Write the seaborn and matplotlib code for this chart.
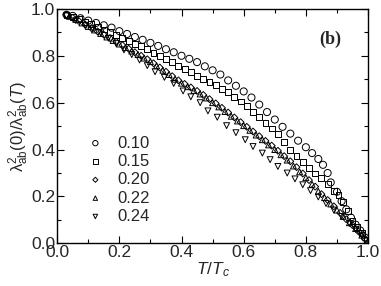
import matplotlib
matplotlib.use("Agg")
import matplotlib.pyplot as plt
import seaborn as sns
from matplotlib.ticker import MultipleLocator

# --- data (T/Tc, lambda^2(0)/lambda^2(T)) ---
x_010 = [0.03, 0.05, 0.075, 0.10, 0.125, 0.15, 0.175, 0.20, 0.225, 0.25, 0.275, 0.30,
         0.325, 0.35, 0.375, 0.40, 0.425, 0.45, 0.475, 0.50, 0.525, 0.55, 0.575, 0.60,
         0.625, 0.65, 0.675, 0.70, 0.725, 0.75, 0.775, 0.80, 0.82, 0.84, 0.855, 0.87,
         0.88, 0.90, 0.915, 0.93, 0.945, 0.96, 0.975, 0.99]
y_010 = [0.975, 0.97, 0.96, 0.95, 0.94, 0.93, 0.92, 0.905, 0.893, 0.88, 0.868, 0.855,
         0.842, 0.828, 0.815, 0.80, 0.787, 0.773, 0.755, 0.738, 0.72, 0.695, 0.672, 0.648,
         0.622, 0.592, 0.56, 0.528, 0.497, 0.468, 0.438, 0.41, 0.385, 0.36, 0.335, 0.30,
         0.26, 0.22, 0.18, 0.145, 0.11, 0.08, 0.055, 0.025]

x_015 = [0.03, 0.05, 0.07, 0.09, 0.11, 0.13, 0.15, 0.17, 0.19, 0.21, 0.23, 0.25, 0.27,
         0.29, 0.31, 0.33, 0.35, 0.37, 0.39, 0.41, 0.43, 0.45, 0.47, 0.49, 0.51, 0.53,
         0.55, 0.57, 0.59, 0.61, 0.63, 0.65, 0.67, 0.69, 0.71, 0.73, 0.75, 0.77, 0.79,
         0.81, 0.83, 0.85, 0.87, 0.89, 0.905, 0.92, 0.935, 0.95, 0.965, 0.98, 0.995]
y_015 = [0.975, 0.965, 0.955, 0.945, 0.935, 0.925, 0.912, 0.90, 0.888, 0.876, 0.864, 0.852,
         0.84, 0.827, 0.813, 0.80, 0.786, 0.772, 0.758, 0.744, 0.73, 0.715, 0.70, 0.688,
         0.674, 0.66, 0.644, 0.625, 0.605, 0.585, 0.562, 0.538, 0.515, 0.49, 0.465, 0.433,
         0.40, 0.372, 0.347, 0.322, 0.298, 0.277, 0.252, 0.225, 0.205, 0.175, 0.138, 0.095,
         0.068, 0.045, 0.015]

x_020 = [0.03, 0.05, 0.07, 0.09, 0.11, 0.13, 0.15, 0.17, 0.19, 0.21, 0.23, 0.25, 0.27,
         0.29, 0.31, 0.33, 0.35, 0.37, 0.39, 0.41, 0.43, 0.45, 0.47, 0.49, 0.51, 0.53,
         0.55, 0.57, 0.59, 0.61, 0.63, 0.65, 0.67, 0.69, 0.71, 0.73, 0.75, 0.77, 0.79,
         0.81, 0.83, 0.85, 0.87, 0.89, 0.91, 0.93, 0.95, 0.97, 0.99]
y_020 = [0.975, 0.962, 0.948, 0.933, 0.918, 0.904, 0.89, 0.875, 0.86, 0.845, 0.83, 0.815,
         0.80, 0.785, 0.768, 0.75, 0.732, 0.713, 0.695, 0.68, 0.665, 0.65, 0.633, 0.615,
         0.597, 0.578, 0.558, 0.537, 0.517, 0.497, 0.477, 0.457, 0.437, 0.417, 0.395, 0.372,
         0.35, 0.325, 0.298, 0.27, 0.242, 0.21, 0.185, 0.158, 0.13, 0.103, 0.078, 0.05, 0.02]

x_022 = [0.04, 0.06, 0.08, 0.10, 0.12, 0.14, 0.16, 0.18, 0.20, 0.22, 0.24, 0.26, 0.28,
         0.30, 0.32, 0.34, 0.36, 0.38, 0.40, 0.42, 0.44, 0.46, 0.48, 0.50, 0.52, 0.54,
         0.56, 0.58, 0.60, 0.62, 0.64, 0.66, 0.68, 0.70, 0.72, 0.74, 0.76, 0.78, 0.80,
         0.82, 0.84, 0.86, 0.88, 0.90, 0.92, 0.94, 0.96, 0.98, 1.0]
y_022 = [0.968, 0.955, 0.94, 0.925, 0.91, 0.895, 0.88, 0.865, 0.85, 0.835, 0.82, 0.805,
         0.79, 0.775, 0.757, 0.738, 0.72, 0.70, 0.683, 0.668, 0.652, 0.637, 0.62, 0.60,
         0.582, 0.562, 0.542, 0.522, 0.502, 0.482, 0.462, 0.442, 0.42, 0.40, 0.378, 0.355,
         0.33, 0.305, 0.28, 0.252, 0.222, 0.195, 0.168, 0.142, 0.115, 0.088, 0.063, 0.035, 0.01]

x_024 = [0.03, 0.06, 0.09, 0.115, 0.14, 0.165, 0.19, 0.215, 0.24, 0.265, 0.29, 0.315,
         0.345, 0.375, 0.405, 0.43, 0.46, 0.485, 0.515, 0.545, 0.575, 0.605, 0.63, 0.66,
         0.685, 0.71, 0.74, 0.765, 0.79, 0.815, 0.84, 0.865, 0.89, 0.915, 0.94, 0.96,
         0.98, 0.995]
y_024 = [0.97, 0.95, 0.93, 0.915, 0.898, 0.875, 0.852, 0.825, 0.805, 0.782, 0.758, 0.732,
         0.708, 0.682, 0.65, 0.625, 0.60, 0.565, 0.538, 0.502, 0.472, 0.442, 0.413, 0.385,
         0.357, 0.328, 0.30, 0.275, 0.25, 0.225, 0.198, 0.17, 0.142, 0.115, 0.085, 0.06,
         0.035, 0.01]

series = [
    ("0.10", x_010, y_010, "o", 26),
    ("0.15", x_015, y_015, "s", 18),
    ("0.20", x_020, y_020, "D", 12),
    ("0.22", x_022, y_022, "^", 18),
    ("0.24", x_024, y_024, "v", 18),
]

sns.set_style("ticks")
plt.rcParams["font.family"] = ["Liberation Sans", "DejaVu Sans"]
plt.rcParams["mathtext.fontset"] = "custom"
plt.rcParams["mathtext.rm"] = "Liberation Sans"
plt.rcParams["mathtext.it"] = "Liberation Sans:italic"

fig = plt.figure(figsize=(3.81, 2.86), dpi=100)
ax = fig.add_axes([0.15, 0.149, 0.816, 0.82])

for lab, xs, ys, mk, sz in series:
    sns.scatterplot(x=xs, y=ys, marker=mk, s=sz, facecolor="none", edgecolor="black",
                    linewidth=0.7, label=lab, ax=ax)

ax.set_xlim(0, 1.0)
ax.set_ylim(0, 1.0)
ax.xaxis.set_major_locator(MultipleLocator(0.2))
ax.xaxis.set_minor_locator(MultipleLocator(0.1))
ax.yaxis.set_major_locator(MultipleLocator(0.2))
ax.yaxis.set_minor_locator(MultipleLocator(0.1))
ax.xaxis.set_major_formatter(plt.FormatStrFormatter("%.1f"))
ax.yaxis.set_major_formatter(plt.FormatStrFormatter("%.1f"))
ax.tick_params(which="both", direction="in", top=True, right=True, width=0.8,
               labelsize=12.5, pad=1.5, color="black")
ax.tick_params(which="major", length=5)
ax.tick_params(which="minor", length=3)
for sp in ax.spines.values():
    sp.set_linewidth(1.0)
    sp.set_color("black")

ax.set_xlabel(r"$T/T_c$", fontsize=12.5, labelpad=0)
ax.set_ylabel(r"$\mathregular{λ^2_{ab}(0)/λ^2_{ab}(}T\mathregular{)}$", fontsize=12, labelpad=0)

ax.text(0.878, 0.868, "(b)", fontsize=13, fontweight="bold", family="Liberation Serif",
        ha="center", va="center", transform=ax.transAxes)

ax.legend(frameon=False, loc="upper left", bbox_to_anchor=(0.08, 0.46), borderaxespad=0,
          borderpad=0, handlelength=1.6, handletextpad=0.5, labelspacing=0.2,
          fontsize=12, markerscale=0.75)

fig.savefig("out.png", dpi=100)
